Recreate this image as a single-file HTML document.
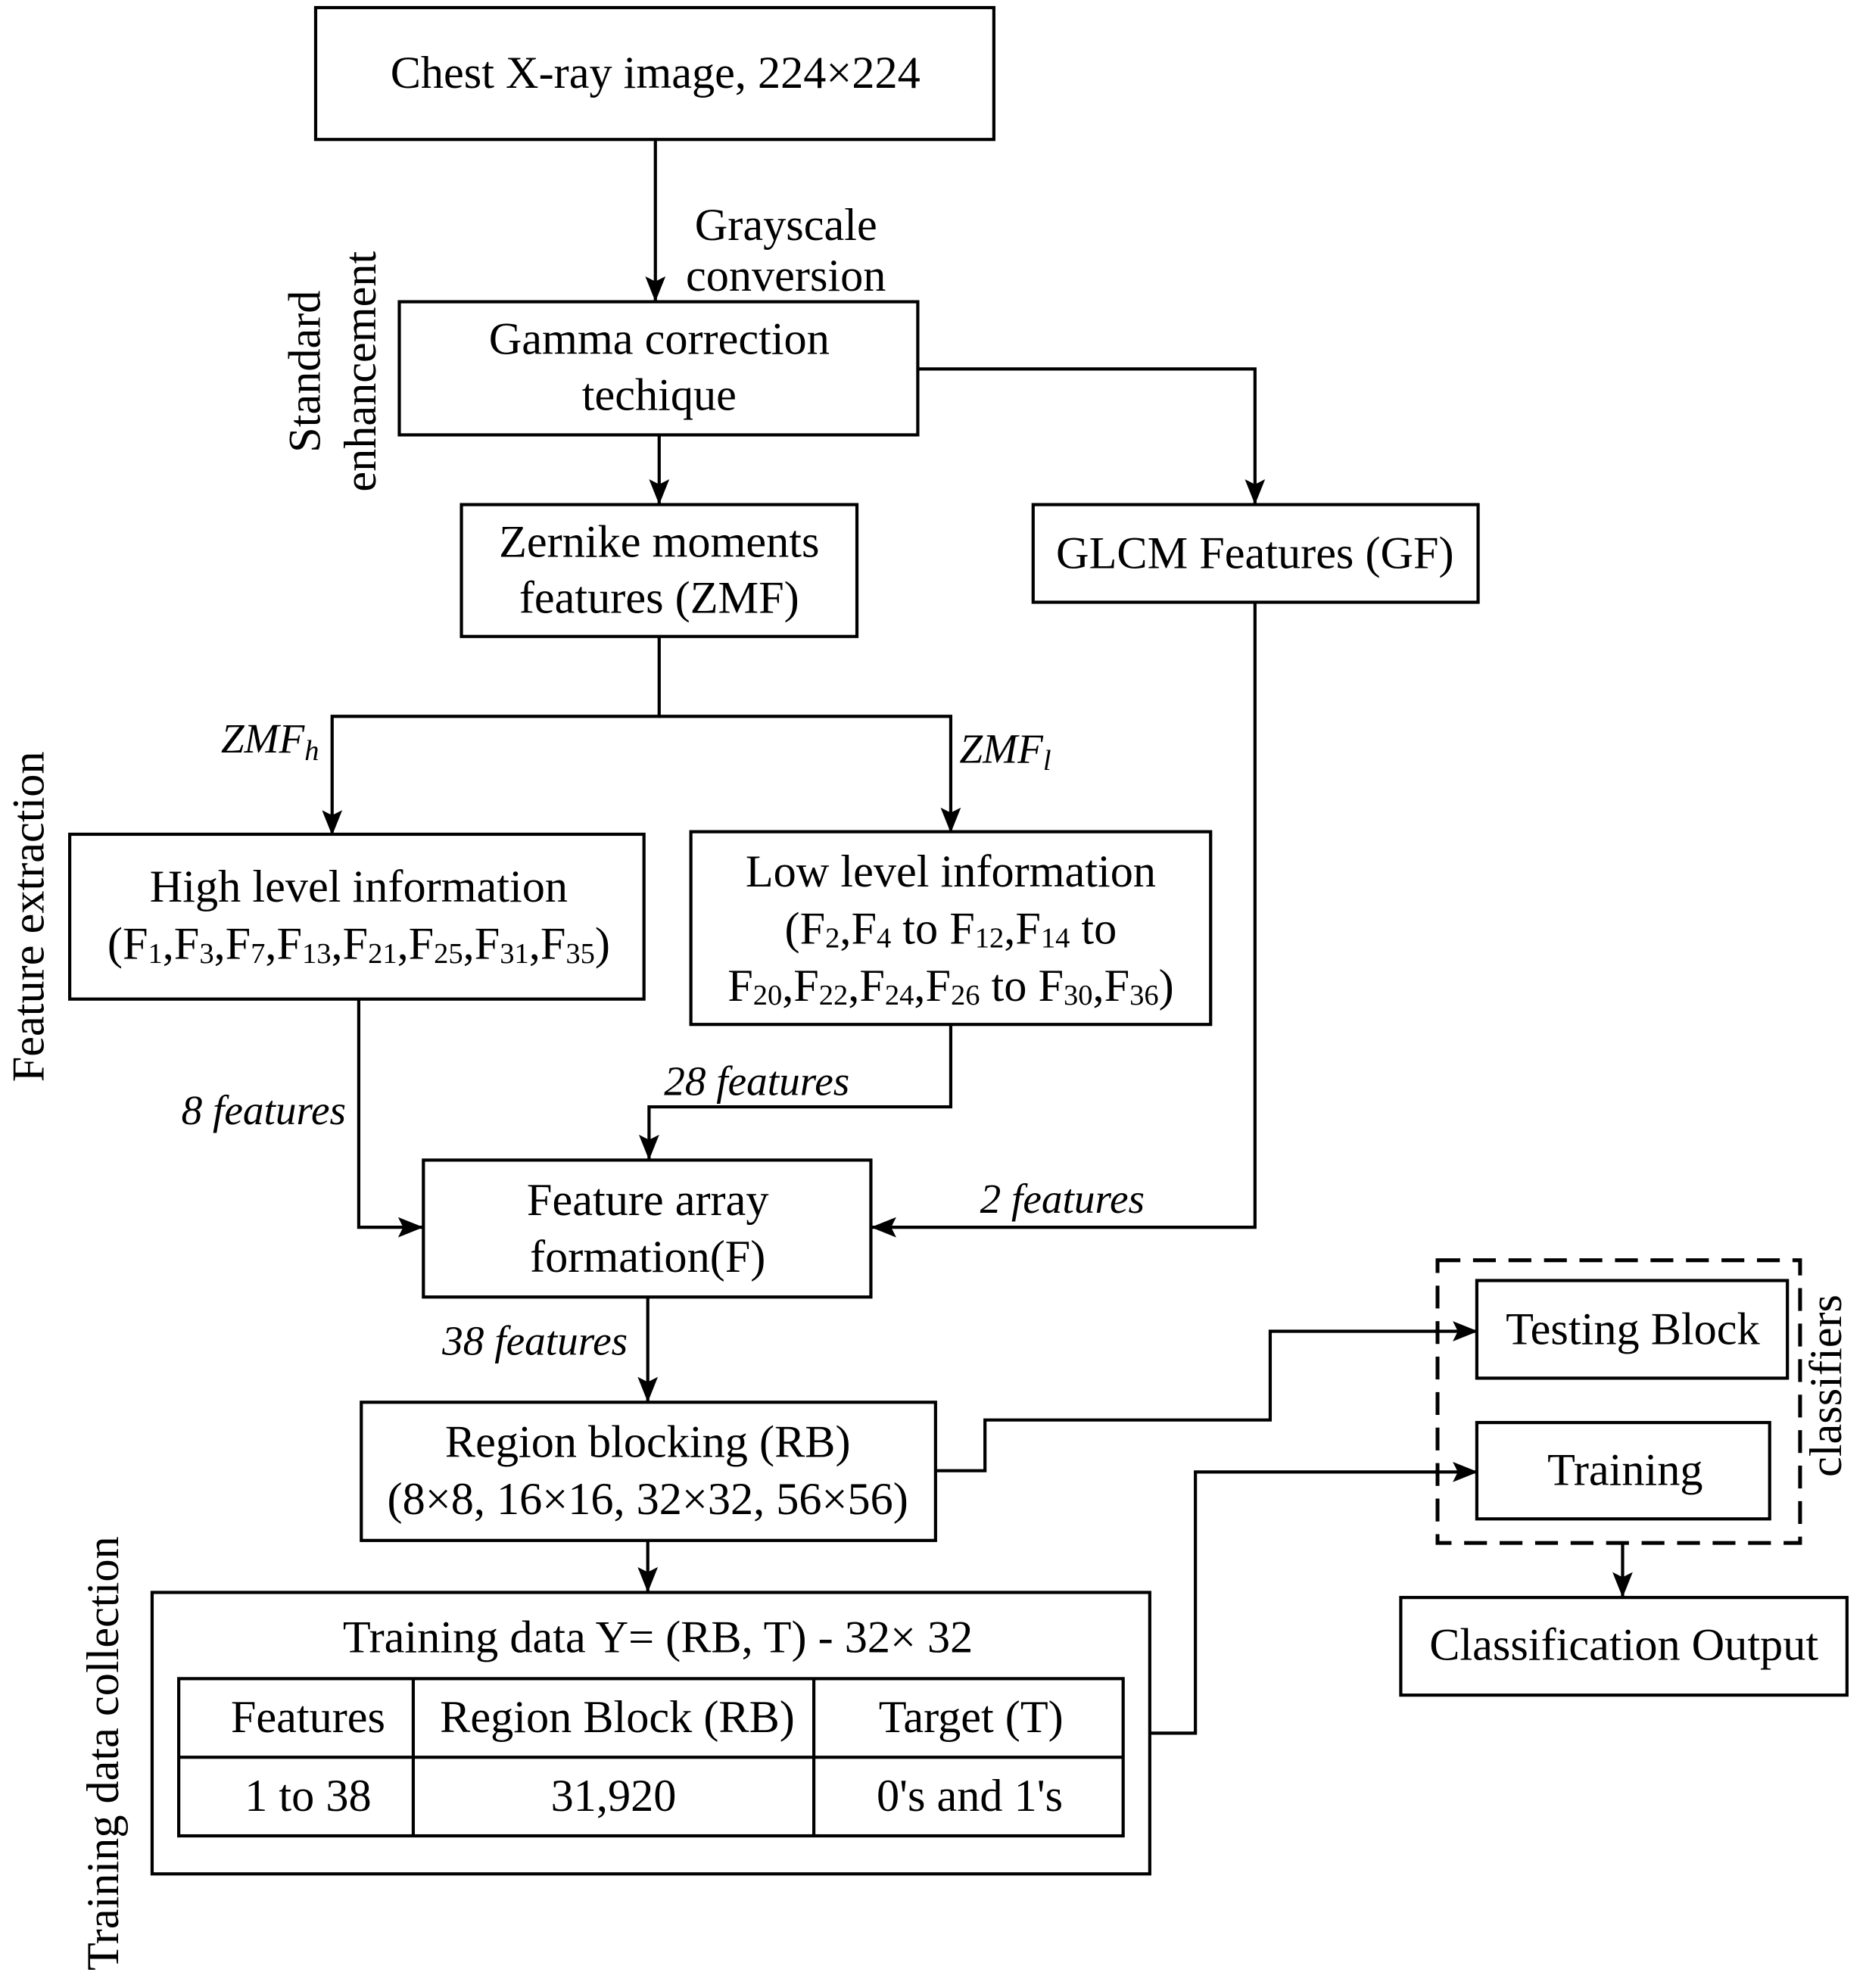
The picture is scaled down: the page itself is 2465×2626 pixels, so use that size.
<!DOCTYPE html>
<html><head><meta charset="utf-8"><style>
html,body{margin:0;padding:0;background:#fff;}
svg{display:block;}
text{font-family:"Liberation Serif",serif;font-size:36px;fill:#000;text-anchor:middle;dominant-baseline:middle;}
.i{font-style:italic;font-size:33px;}
.s{font-size:23px;}
</style></head><body>
<svg width="2465" height="2626" viewBox="0 0 1472 1568" preserveAspectRatio="none" xmlns="http://www.w3.org/2000/svg">
<defs><marker id="b" markerWidth="20" markerHeight="16" refX="19" refY="8" orient="auto" markerUnits="userSpaceOnUse"><path d="M0,0 L20,8 L0,16 L4,8 Z" fill="#000"/></marker></defs>
<g fill="none" stroke="#000" stroke-width="2.5">
<rect x="249" y="6" width="535" height="104"/>
<rect x="315" y="238" width="409" height="105"/>
<rect x="364" y="398" width="312" height="104"/>
<rect x="815" y="398" width="351" height="77"/>
<rect x="55" y="658" width="453" height="130"/>
<rect x="545" y="656" width="410" height="152"/>
<rect x="334" y="915" width="353" height="108"/>
<rect x="285" y="1106" width="453" height="109"/>
<rect x="120" y="1256" width="787" height="222"/>
<rect x="141" y="1324" width="745" height="124"/>
<line x1="141" y1="1386" x2="886" y2="1386"/>
<line x1="326" y1="1324" x2="326" y2="1448"/>
<line x1="642" y1="1324" x2="642" y2="1448"/>
<rect x="1134" y="994" width="286" height="223" stroke-dasharray="18,10" stroke-width="3"/>
<rect x="1165" y="1010" width="245" height="77"/>
<rect x="1165" y="1122" width="231" height="76"/>
<rect x="1105" y="1260" width="352" height="77"/>
</g>
<g fill="none" stroke="#000" stroke-width="2.5" marker-end="url(#b)">
<path d="M517,110 V237"/>
<path d="M520,343 V397"/>
<path d="M724,291 H990 V397"/>
<path d="M520,502 V565 H262 V658"/>
<path d="M520,565 H750 V656"/>
<path d="M283,788 V968 H333"/>
<path d="M750,808 V873 H512 V914"/>
<path d="M990,475 V968 H688"/>
<path d="M511,1023 V1105"/>
<path d="M738,1160 H777 V1120 H1002 V1050 H1165"/>
<path d="M511,1215 V1255"/>
<path d="M907,1367 H943 V1161 H1165"/>
<path d="M1280,1217 V1259"/>
</g>
<g transform="translate(0,3)">
<text x="517" y="58">Chest X-ray image, 224×224</text>
<text x="620" y="178">Grayscale</text>
<text x="620" y="218">conversion</text>
<text x="520" y="268">Gamma correction</text>
<text x="520" y="312">techique</text>
<text transform="translate(244,290) rotate(-90)">Standard</text>
<text transform="translate(288,290) rotate(-90)">enhancement</text>
<text x="520" y="428">Zernike moments</text>
<text x="520" y="472">features (ZMF)</text>
<text x="990" y="437">GLCM Features (GF)</text>
<text class="i" x="213" y="583">ZMF<tspan class="s" dy="8">h</tspan></text>
<text class="i" x="793" y="591">ZMF<tspan class="s" dy="8">l</tspan></text>
<text transform="translate(26,720) rotate(-90)">Feature extraction</text>
<text x="283" y="700">High level information</text>
<text x="283" y="745">(F<tspan class="s" dy="6">1</tspan><tspan dy="-6">,F</tspan><tspan class="s" dy="6">3</tspan><tspan dy="-6">,F</tspan><tspan class="s" dy="6">7</tspan><tspan dy="-6">,F</tspan><tspan class="s" dy="6">13</tspan><tspan dy="-6">,F</tspan><tspan class="s" dy="6">21</tspan><tspan dy="-6">,F</tspan><tspan class="s" dy="6">25</tspan><tspan dy="-6">,F</tspan><tspan class="s" dy="6">31</tspan><tspan dy="-6">,F</tspan><tspan class="s" dy="6">35</tspan><tspan dy="-6">)</tspan></text>
<text x="750" y="688">Low level information</text>
<text x="750" y="733">(F<tspan class="s" dy="6">2</tspan><tspan dy="-6">,F</tspan><tspan class="s" dy="6">4</tspan><tspan dy="-6"> to F</tspan><tspan class="s" dy="6">12</tspan><tspan dy="-6">,F</tspan><tspan class="s" dy="6">14</tspan><tspan dy="-6"> to</tspan></text>
<text x="750" y="778">F<tspan class="s" dy="6">20</tspan><tspan dy="-6">,F</tspan><tspan class="s" dy="6">22</tspan><tspan dy="-6">,F</tspan><tspan class="s" dy="6">24</tspan><tspan dy="-6">,F</tspan><tspan class="s" dy="6">26</tspan><tspan dy="-6"> to F</tspan><tspan class="s" dy="6">30</tspan><tspan dy="-6">,F</tspan><tspan class="s" dy="6">36</tspan><tspan dy="-6">)</tspan></text>
<text class="i" x="208" y="876">8 features</text>
<text class="i" x="597" y="853">28 features</text>
<text class="i" x="838" y="946">2 features</text>
<text x="511" y="947">Feature array</text>
<text x="511" y="992">formation(F)</text>
<text class="i" x="422" y="1058">38 features</text>
<text x="511" y="1138">Region blocking (RB)</text>
<text x="511" y="1183">(8×8, 16×16, 32×32, 56×56)</text>
<text transform="translate(85,1380) rotate(-90)">Training data collection</text>
<text x="519" y="1292">Training data Y= (RB, T) - 32× 32</text>
<text x="243" y="1355">Features</text>
<text x="487" y="1355">Region Block (RB)</text>
<text x="766" y="1355">Target (T)</text>
<text x="243" y="1417">1 to 38</text>
<text x="484" y="1417">31,920</text>
<text x="765" y="1417">0's and 1's</text>
<text x="1288" y="1049">Testing Block</text>
<text x="1282" y="1160">Training</text>
<text transform="translate(1444,1090) rotate(-90)">classifiers</text>
<text x="1281" y="1298">Classification Output</text>
</g>
</svg>
</body></html>
